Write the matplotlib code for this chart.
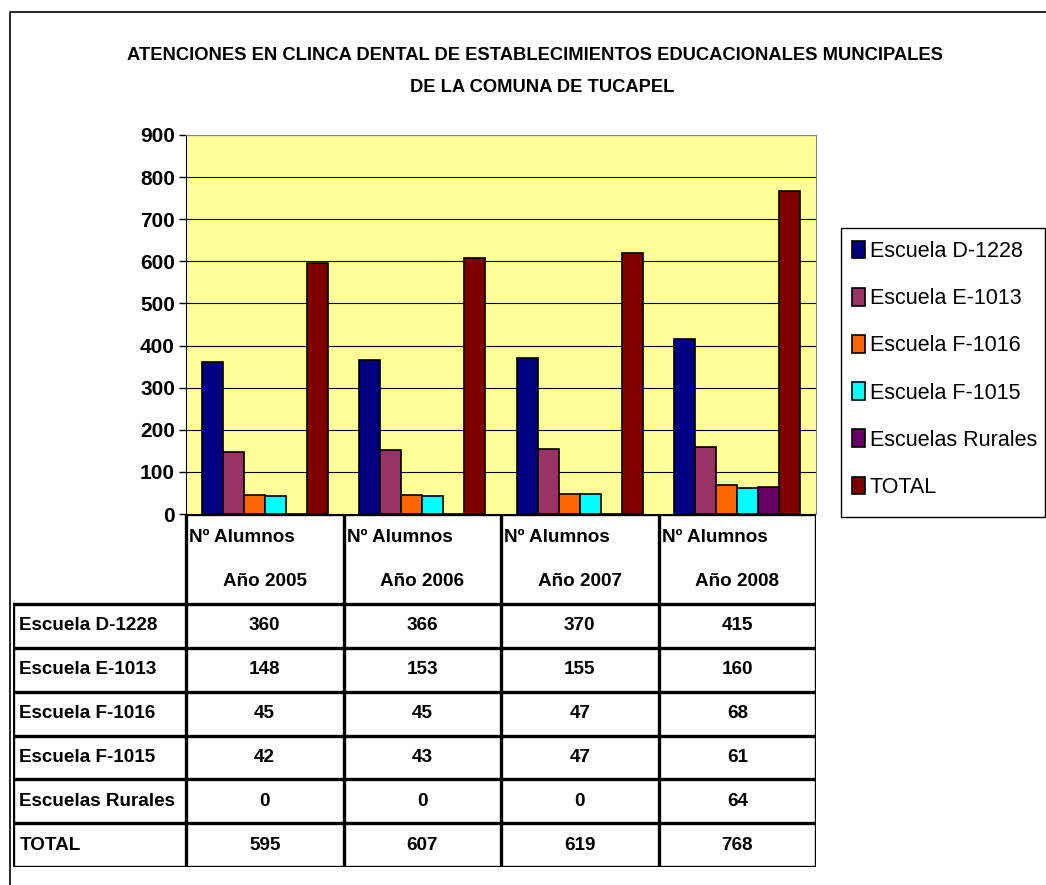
import numpy as np
import matplotlib
matplotlib.use('Agg')
import matplotlib.pyplot as plt
from matplotlib.lines import Line2D
from matplotlib.patches import Rectangle

years = ['Año 2005', 'Año 2006', 'Año 2007', 'Año 2008']
header_top = 'Nº Alumnos'
series_names = ['Escuela D-1228', 'Escuela E-1013', 'Escuela F-1016',
                'Escuela F-1015', 'Escuelas Rurales', 'TOTAL']
d1228 = [360, 366, 370, 415]
e1013 = [148, 153, 155, 160]
f1016 = [45, 45, 47, 68]
f1015 = [42, 43, 47, 61]
rurales = [0, 0, 0, 64]
total = [595, 607, 619, 768]
series = [d1228, e1013, f1016, f1015, rurales, total]
colors = ['#000080', '#993366', '#FF6600', '#00FFFF', '#660066', '#800000']
yticks = np.arange(0, 901, 100)

title1 = 'ATENCIONES EN CLINCA DENTAL DE ESTABLECIMIENTOS EDUCACIONALES MUNCIPALES'
title2 = 'DE LA COMUNA DE TUCAPEL'

plt.rcParams['font.family'] = ['Liberation Sans', 'DejaVu Sans']

W, H = 1046, 885
fig = plt.figure(figsize=(W / 100, H / 100), dpi=100)


def fx(x):
    return x / W


def fy(y):
    return 1 - y / H


# outer chart frame (left and top visible)
fig.add_artist(Line2D([fx(10), fx(10), fx(1046)], [fy(885), fy(12), fy(12)],
                      color='black', lw=1.2))

fig.text(fx(535), fy(55), title1, ha='center', va='center', fontsize=13.2, fontweight='bold')
fig.text(fx(542), fy(88), title2, ha='center', va='center', fontsize=13.2, fontweight='bold')

# plot area
ax = fig.add_axes([fx(186), fy(514), fx(816) - fx(186), fy(135) - fy(514)])
ax.set_facecolor('#FFFF99')
bw = 1 / 7.5
x = np.arange(len(years))
for j, vals in enumerate(series):
    ax.bar(x + 0.75 * bw + j * bw, vals, width=bw, align='edge', color=colors[j],
           edgecolor='black', lw=1.2, zorder=3, label=series_names[j])
ax.set_xlim(0, len(years))
ax.set_ylim(0, 900)
ax.set_yticks(yticks)
ax.set_xticks([])
ax.yaxis.grid(True, color='black', lw=0.8)
ax.set_axisbelow(True)
ax.tick_params(axis='y', length=5, width=1, labelsize=15, pad=3)
for lab in ax.get_yticklabels():
    lab.set_fontweight('bold')
ax.spines['top'].set_color('#808080')
ax.spines['right'].set_color('#808080')
ax.spines['left'].set_color('black')
ax.spines['bottom'].set_visible(False)

# legend box (frame drawn separately so it matches the reference height)
fig.add_artist(Rectangle((fx(841), fy(517)), fx(1045) - fx(841), fy(228) - fy(517),
                         transform=fig.transFigure, facecolor='white',
                         edgecolor='black', lw=1.0, zorder=-1))
leg = ax.legend(loc='upper left', bbox_to_anchor=(fx(843), fy(232)),
                bbox_transform=fig.transFigure, frameon=False,
                fontsize=15.5, handlelength=0.6, handleheight=0.9,
                handletextpad=0.25, labelspacing=1.2, borderpad=0.4,
                borderaxespad=0)

# data table below the plot
left_w = 173 / 157.5
tax = fig.add_axes([fx(13), fy(867), fx(816) - fx(13), fy(514) - fy(867)])
tax.set_xlim(-left_w, len(years))
tax.set_ylim(353, 0)
tax.axis('off')
head_h = 90
row_h = (353 - head_h) / len(series)
lw = 2.4
tax.plot([0, len(years)], [0, 0], color='black', lw=lw, solid_capstyle='projecting')
for i in range(len(years) + 1):
    tax.plot([i, i], [0, 353], color='black', lw=lw, solid_capstyle='projecting')
tax.plot([-left_w, -left_w], [head_h, 353], color='black', lw=lw, solid_capstyle='projecting')
for k in range(len(series) + 1):
    yk = head_h + k * row_h
    tax.plot([-left_w, len(years)], [yk, yk], color='black', lw=lw, solid_capstyle='projecting')

fs = 13.6
for i, yr in enumerate(years):
    tax.text(i + 0.02, 24, header_top, ha='left', va='center', fontsize=fs, fontweight='bold')
    tax.text(i + 0.5, 67, yr, ha='center', va='center', fontsize=fs, fontweight='bold')
for k, (name, vals) in enumerate(zip(series_names, series)):
    yc = head_h + (k + 0.5) * row_h
    tax.text(-left_w + 0.04, yc, name, ha='left', va='center', fontsize=fs, fontweight='bold')
    for i, v in enumerate(vals):
        tax.text(i + 0.5, yc, str(v), ha='center', va='center', fontsize=fs, fontweight='bold')

fig.savefig('out.png', dpi=100)
